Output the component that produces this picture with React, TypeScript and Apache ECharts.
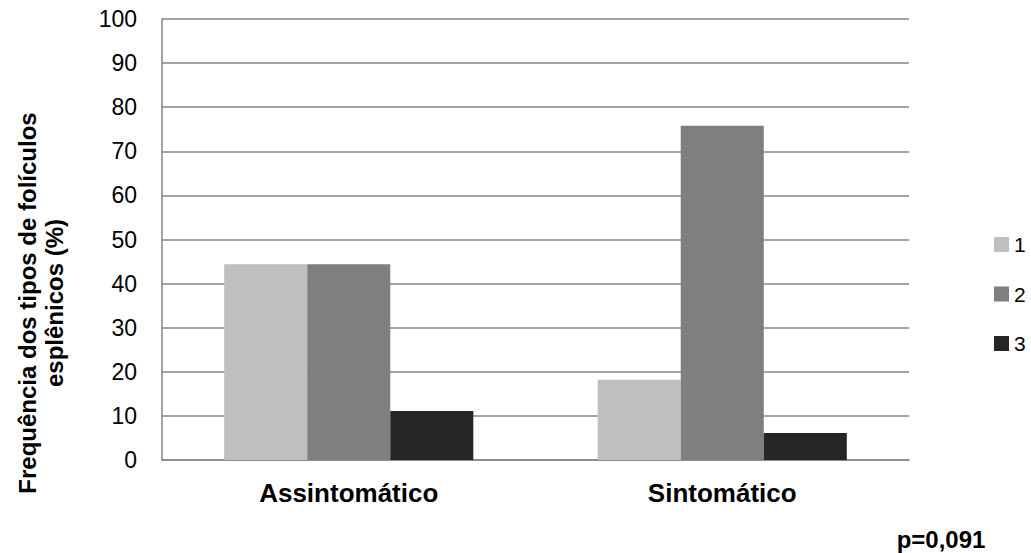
import React, { useEffect, useRef } from "react";
import * as echarts from "echarts";

// Groups on the category axis
const categories = ["Assintomático", "Sintomático"];
// Follicle type frequencies (%) per group
const tipo1 = [44.4, 18.2];
const tipo2 = [44.4, 75.8];
const tipo3 = [11.1, 6.1];
const seriesNames = ["1", "2", "3"];
const yTicks = { min: 0, max: 100, interval: 10 };
const yTitle = "Frequência dos tipos de folículos\nesplênicos (%)";
const pValue = "p=0,091";

const FONT = "'Liberation Sans', Arial, sans-serif";

export default function App() {
  const ref = useRef<HTMLDivElement>(null);

  useEffect(() => {
    if (!ref.current) return;
    const chart = echarts.init(ref.current, undefined, { renderer: "svg" });
    const colors = ["#BFBFBF", "#7F7F7F", "#262626"];
    const values = [tipo1, tipo2, tipo3];
    chart.setOption({
      animation: false,
      backgroundColor: "#ffffff",
      textStyle: { fontFamily: FONT },
      grid: { left: 162, right: 122, top: 19, bottom: 93, containLabel: false },
      legend: {
        orient: "vertical",
        left: 994,
        top: 234,
        padding: 0,
        itemWidth: 15,
        itemHeight: 15,
        itemGap: 28.5,
        icon: "rect",
        textStyle: {
          fontSize: 21,
          color: "#000",
          fontFamily: FONT,
          lineHeight: 20,
          padding: [0, 0, 0, 0],
        },
        data: seriesNames,
      },
      xAxis: {
        type: "category",
        data: categories,
        axisLine: { lineStyle: { color: "#868686", width: 1.5 } },
        axisTick: { show: false },
        axisLabel: {
          margin: 20,
          fontSize: 26,
          fontWeight: "bold",
          color: "#000",
          fontFamily: FONT,
        },
      },
      yAxis: {
        type: "value",
        min: yTicks.min,
        max: yTicks.max,
        interval: yTicks.interval,
        axisLine: { show: true, lineStyle: { color: "#868686", width: 1.5 } },
        axisTick: { show: false },
        splitLine: { lineStyle: { color: "#868686", width: 1.5 } },
        axisLabel: { margin: 25, fontSize: 23, color: "#000", fontFamily: FONT },
      },
      series: seriesNames.map((name, i) => ({
        name,
        type: "bar",
        data: values[i],
        barGap: "0%",
        barCategoryGap: "33.3%",
        itemStyle: { color: colors[i] },
      })),
      graphic: [
        {
          type: "text",
          x: 41,
          y: 303,
          rotation: Math.PI / 2,
          style: {
            text: yTitle,
            fontSize: 24,
            fontWeight: "bold",
            fontFamily: FONT,
            fill: "#000",
            align: "center",
            verticalAlign: "middle",
            lineHeight: 27,
          },
        },
        {
          type: "text",
          x: 941,
          y: 539,
          style: {
            text: pValue,
            fontSize: 24,
            fontWeight: "bold",
            fontFamily: FONT,
            fill: "#000",
            align: "center",
            verticalAlign: "middle",
          },
        },
      ],
    });
    return () => chart.dispose();
  }, []);

  return (
    <div
      ref={ref}
      style={{ position: "fixed", left: 0, top: 0, width: 1031, height: 553 }}
    />
  );
}
